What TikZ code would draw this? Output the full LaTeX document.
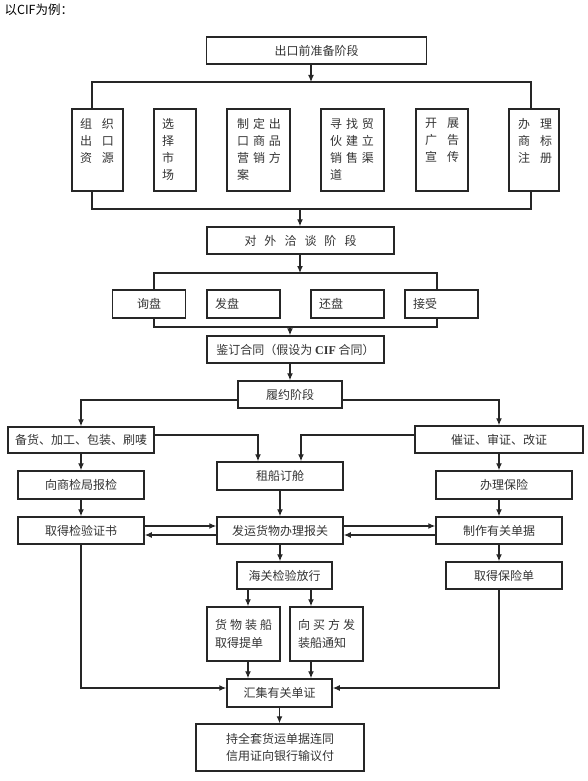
\documentclass[tikz,border=0pt]{standalone}
\usepackage{fontspec}
\setmainfont{Liberation Serif}
\newfontfamily\cjk{Noto Sans CJK SC}
\usetikzlibrary{calc,arrows.meta}
\def\gp#1{\hspace{#1pt}}
\def\colstack#1#2#3{\parbox[c][82pt][t]{#1pt}{\leftskip=#2pt\relax\vspace*{9pt}#3}}

\tikzset{
	box/.style={draw=black!85, line width=1.5pt, inner sep=0pt, text=black!80, font=\cjk\fontsize{12}{17.5}\selectfont},
	tallbox/.style={box, font=\cjk\fontsize{12}{17}\selectfont},
	leftbox/.style={box, minimum height=28, text width=57, inner xsep=8pt, align=left},
	link/.style={draw=black!85, line width=1.2pt},
	arr/.style={link, -{Latex[length=7pt,width=6pt]}},
}

\begin{document}
\begin{tikzpicture}[x=1pt, y=-1pt]
		%%%%% START %%%%%
		\useasboundingbox (0,0) rectangle (588,781);
		
		\node[anchor=west, font=\cjk\fontsize{12.5}{14}\selectfont] (title) at (1,10) {以CIF为例：};
		
		% stage 1
		\node[box, minimum width=220, minimum height=27] (prep) at (316.5,50.5) {出口前准备阶段};
		\node[tallbox] (b1) at (97.5,150) {\colstack{51}{8}{组\gp{10}织\\出\gp{10}口\\资\gp{10}源}};
		\node[tallbox] (b2) at (175,150) {\colstack{42}{8}{选\\择\\市\\场}};
		\node[tallbox] (b3) at (258.5,150) {\colstack{63}{10}{制\gp4定\gp4出\\口\gp4商\gp4品\\营\gp4销\gp4方\\案}};
		\node[tallbox] (b4) at (352.5,150) {\colstack{63}{9}{寻\gp4找\gp4贸\\伙\gp4建\gp4立\\销\gp4售\gp4渠\\道}};
		\node[tallbox] (b5) at (442,150) {\colstack{52}{9}{开\gp{10}展\\广\gp{10}告\\宣\gp{10}传}};
		\node[tallbox] (b6) at (534,150) {\colstack{50}{9}{办\gp{10}理\\商\gp{10}标\\注\gp{10}册}};
		
		\coordinate (bus1) at (311,82);
		\coordinate (bus2) at (300,209);
		\draw[arr] (prep.south -| bus1) -- (bus1);
		\draw[link] ($(b1.north)+(-5.5,0)$) |- (bus1) -| ($(b6.north)+(-3,0)$);
		\draw[link] ($(b1.south)+(-5.5,0)$) |- (bus2) -| ($(b6.south)+(-3,0)$);
		
		% stage 2
		\node[box, minimum width=187, minimum height=27] (nego) at (300.5,240.5) {对\gp8外\gp8洽\gp8谈\gp8阶\gp8段};
		\node[leftbox, align=center] (xun) at (149,304) {询盘};
		\node[leftbox] (fa) at (243.5,304) {发盘};
		\node[leftbox] (huan) at (347.5,304) {还盘};
		\node[leftbox] (jie) at (441.5,304) {接受};
		\node[box, minimum width=177, minimum height=27] (sign) at (295.5,349.5) {鉴订合同（假设为 {\rmfamily\bfseries CIF} 合同）};
		
		\coordinate (bus3) at (300,273);
		\coordinate (bus4) at (290,327);
		\draw[arr] (bus2) -- (nego.north -| bus2);
		\draw[arr] (nego.south -| bus3) -- (bus3);
		\draw[link] ($(xun.north)+(5,0)$) |- (bus3) -| ($(jie.north)+(-4.5,0)$);
		\draw[link] ($(xun.south)+(5,0)$) |- (bus4) -| ($(jie.south)+(-4.5,0)$);
		\draw[arr] (bus4) -- (bus4 |- sign.north);
		
		% stage 3
		\node[box, minimum width=104, minimum height=27] (perf) at (290,394.5) {履约阶段};
		\node[box, minimum width=146, minimum height=26] (prep2) at (81,440) {备货、加工、包装、刷唛};
		\node[box, minimum width=168, minimum height=27] (lc) at (499,439.5) {催证、审证、改证};
		\node[box, minimum width=126, minimum height=28] (ship) at (280,476) {租船订舱};
		\node[box, minimum width=126, minimum height=28] (insp) at (81,485) {向商检局报检};
		\node[box, minimum width=136, minimum height=28] (ins) at (504,485) {办理保险};
		\node[box, minimum width=126, minimum height=27] (cert) at (81,530.5) {取得检验证书};
		\node[box, minimum width=126, minimum height=27] (decl) at (280,530.5) {发运货物办理报关};
		\node[box, minimum width=126, minimum height=27] (docs) at (499,530.5) {制作有关单据};
		\node[box, minimum width=95, minimum height=27] (cust) at (284.5,575.5) {海关检验放行};
		\node[box, minimum width=116, minimum height=27] (pol) at (504,575.5) {取得保险单};
		\node[leftbox, minimum height=54] (bl) at (243.5,634) {货\gp3物\gp3装\gp3船\\取得提单};
		\node[leftbox, minimum height=54] (notice) at (326.5,634) {向\gp3买\gp3方\gp3发\\装船通知};
		\node[box, minimum width=105, minimum height=28] (coll) at (279.5,693) {汇集有关单证};
		\node[box, minimum width=168, minimum height=47, align=center] (final) at (280,747.5) {持全套货运单据连同\\信用证向银行输议付};
		
		\draw[arr] (perf.north |- sign.south) -- (perf.north);
		\draw[arr] ($(perf.west)+(0,5.5)$) -| (prep2.north);
		\draw[arr] ($(perf.east)+(0,5.5)$) -| (lc.north);
		\draw[arr] ($(prep2.east)+(0,-5)$) -| ($(ship.north)+(-22,0)$);
		\draw[arr] ($(lc.west)+(0,-4.5)$) -| ($(ship.north)+(21,0)$);
		\draw[arr] (prep2.south) -- (insp.north);
		\draw[arr] (insp.south) -- (cert.north);
		\draw[arr] (lc.south) -- (lc.south |- ins.north);
		\draw[arr] (docs.north |- ins.south) -- (docs.north);
		\draw[arr] (docs.south) -- (docs.south |- pol.north);
		\draw[arr] (ship.south) -- (decl.north);
		\draw[arr] (decl.south) -- (decl.south |- cust.north);
		
		\draw[arr] ($(cert.east)+(0,-4.5)$) -- ($(decl.west)+(0,-4.5)$);
		\draw[arr] ($(decl.west)+(0,4.5)$) -- ($(cert.east)+(0,4.5)$);
		\draw[arr] ($(decl.east)+(0,-4.5)$) -- ($(docs.west)+(0,-4.5)$);
		\draw[arr] ($(docs.west)+(0,4.5)$) -- ($(decl.east)+(0,4.5)$);
		
		\coordinate (blin) at ($(bl.north)+(4.5,0)$);
		\coordinate (ntin) at ($(notice.north)+(-15.5,0)$);
		\draw[arr] (cust.south -| blin) -- (blin);
		\draw[arr] (cust.south -| ntin) -- (ntin);
		\draw[arr] (bl.south -| blin) -- (coll.north -| blin);
		\draw[arr] (notice.south -| ntin) -- (coll.north -| ntin);
		\draw[arr] (cert.south) |- ($(coll.west)+(0,-5)$);
		\draw[arr] ($(pol.south)+(-5,0)$) |- ($(coll.east)+(0,-5)$);
		\draw[arr] (coll.south) -- (coll.south |- final.north);
		%%%%% END %%%%%
\end{tikzpicture}
\end{document}
